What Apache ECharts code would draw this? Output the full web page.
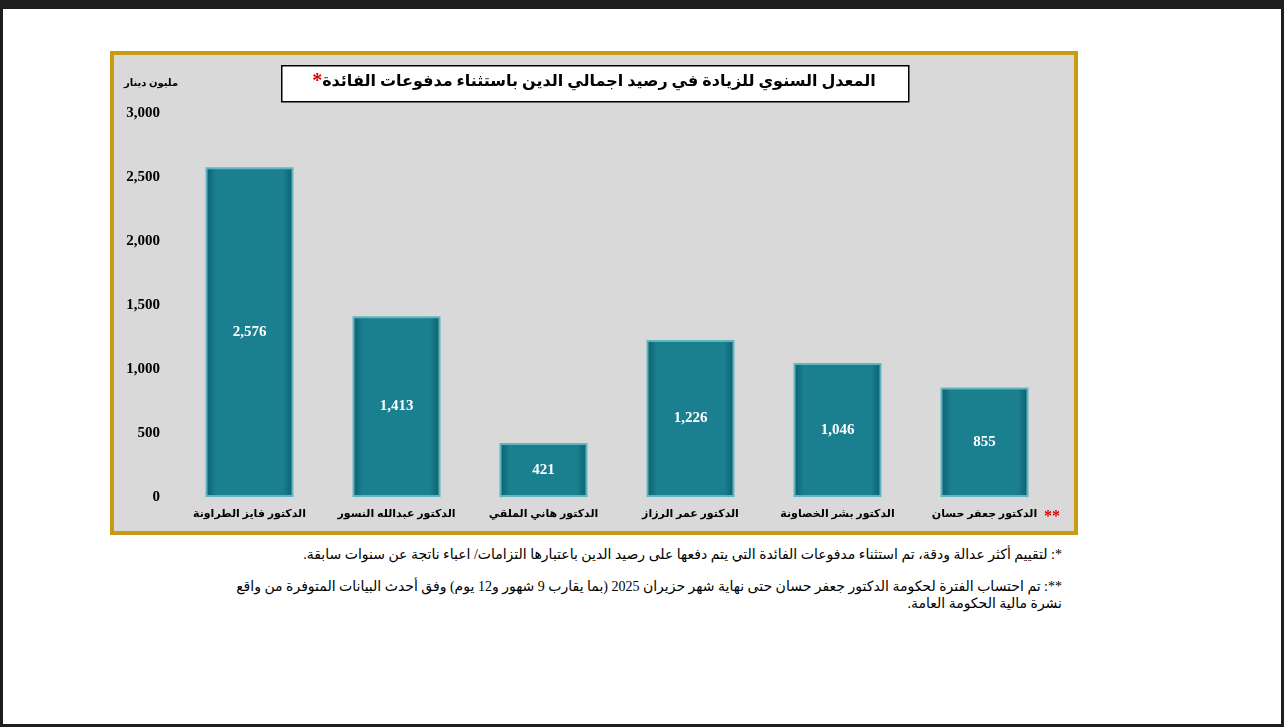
<!DOCTYPE html>
<html><head><meta charset="utf-8">
<script src="https://cdn.jsdelivr.net/npm/echarts@6/dist/echarts.min.js"></script>
<style>
html,body{margin:0;padding:0;background:#1e1e1e;width:1284px;height:727px;overflow:hidden}
#page{position:absolute;left:3px;top:9px;width:1278px;height:715px;background:#fff}
#box{position:absolute;left:110px;top:51px;width:960px;height:476px;background:#d9d9d9;border:4px solid #c99a12}
#chart{position:absolute;left:0;top:0;width:960px;height:476px}
.fn{position:absolute;direction:rtl;text-align:right;font-family:"Liberation Serif","DejaVu Sans",serif;font-size:14px;color:#000;right:222px;width:860px;line-height:17px}
</style></head><body>
<div id="page"></div>
<div id="box"><div id="chart"></div></div>
<div class="fn" style="top:546px">*:  لتقييم أكثر عدالة ودقة، تم استثناء مدفوعات الفائدة التي يتم دفعها على رصيد الدين باعتبارها التزامات/ اعباء ناتجة عن سنوات سابقة.</div>
<div class="fn" style="top:578px">**: تم احتساب الفترة لحكومة الدكتور جعفر حسان حتى نهاية شهر حزيران 2025 (بما يقارب 9 شهور و12 يوم) وفق أحدث البيانات المتوفرة من واقع نشرة مالية الحكومة العامة.</div>
<script>
const categories=["الدكتور فايز الطراونة","الدكتور عبدالله النسور","الدكتور هاني الملقي","الدكتور عمر الرزاز","الدكتور بشر الخصاونة","الدكتور جعفر حسان"];
const values=[2576,1413,421,1226,1046,855];
const title="المعدل السنوي للزيادة في رصيد اجمالي الدين باستثناء مدفوعات الفائدة";
const unit="مليون دينار";
const F='"Liberation Serif","DejaVu Sans",serif';
const c=echarts.init(document.getElementById('chart'));
c.setOption({
 animation:false,
 grid:{left:62,right:16,top:58,bottom:34},
 graphic:[
  {type:'rect',left:167,top:10,shape:{width:627,height:36},style:{fill:'#fff',stroke:'#000',lineWidth:1.5}},
  {type:'text',left:'center',top:17,style:{rich:{a:{fontFamily:F,fontSize:16,fontWeight:'bold',fill:'#000'},r:{fontFamily:F,fontSize:20,fontWeight:'bold',fill:'#e00000'}},text:'{r|*}{a|'+title+'}',align:'center'}},
  {type:'text',left:10,top:23,style:{text:unit,fontFamily:F,fontSize:10,fontWeight:'bold',fill:'#000'}},
  {type:'text',left:930,top:454,style:{text:'**',fontFamily:F,fontSize:16,fontWeight:'bold',fill:'#e00000'}}
 ],
 xAxis:{type:'category',data:categories,axisLine:{show:false},axisTick:{show:false},
  axisLabel:{interval:0,fontFamily:F,fontSize:11,fontWeight:'bold',color:'#000',margin:12}},
 yAxis:{type:'value',min:0,max:3000,interval:500,splitLine:{show:false},axisLine:{show:false},axisTick:{show:false},
  axisLabel:{fontFamily:F,fontSize:15,fontWeight:'bold',color:'#000',margin:16,formatter:v=>v.toLocaleString('en-US')}},
 series:[{type:'bar',data:values,barWidth:88,
  itemStyle:{borderColor:'#5fb6c2',borderWidth:2,
   color:new echarts.graphic.LinearGradient(0,0,1,0,[{offset:0,color:'#0d5e6b'},{offset:0.12,color:'#1a8090'},{offset:0.88,color:'#1a8090'},{offset:1,color:'#0d5e6b'}])},
  label:{show:true,position:'inside',color:'#fff',fontFamily:F,fontSize:15,fontWeight:'bold',formatter:p=>p.value.toLocaleString('en-US')}}]
});
</script></body></html>
